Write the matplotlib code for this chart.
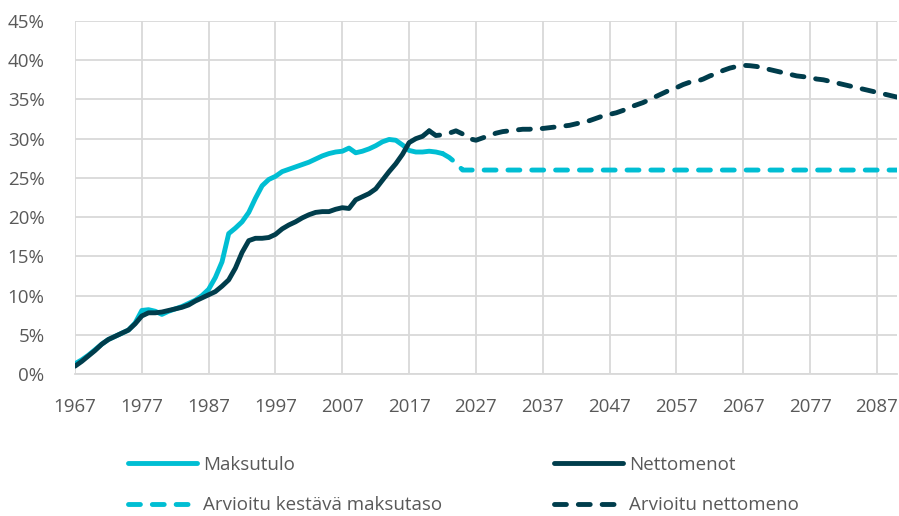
import matplotlib
matplotlib.use("Agg")
import matplotlib.pyplot as plt
from matplotlib.lines import Line2D

# ---------------- data ----------------
maksutulo_years = list(range(1967, 2023))
maksutulo = [1.3, 1.8, 2.4, 3.1, 3.8, 4.4, 4.8, 5.2, 5.6, 6.5,
             8.1, 8.2, 8.0, 7.6, 8.0, 8.3, 8.6, 9.0, 9.4, 10.0,
             10.8, 12.3, 14.3, 17.9, 18.6, 19.4, 20.6, 22.4, 24.0, 24.8,
             25.2, 25.8, 26.1, 26.4, 26.7, 27.0, 27.4, 27.8, 28.1, 28.3,
             28.4, 28.8, 28.2, 28.4, 28.7, 29.1, 29.6, 29.9, 29.8, 29.2,
             28.5, 28.3, 28.3, 28.4, 28.3, 28.1]

nettomenot_years = list(range(1967, 2021))
nettomenot = [1.0, 1.6, 2.3, 3.0, 3.8, 4.4, 4.8, 5.2, 5.6, 6.4,
              7.4, 7.8, 7.8, 7.9, 8.1, 8.3, 8.5, 8.8, 9.3, 9.7,
              10.1, 10.5, 11.2, 12.0, 13.5, 15.5, 17.0, 17.3, 17.3, 17.4,
              17.8, 18.5, 19.0, 19.4, 19.9, 20.3, 20.6, 20.7, 20.7, 21.0,
              21.2, 21.1, 22.2, 22.6, 23.0, 23.6, 24.7, 25.8, 26.8, 28.0,
              29.5, 30.0, 30.3, 31.0]

kestava_years = [2022, 2023, 2024, 2025, 2090]
kestava = [28.1, 27.6, 26.9, 26.0, 26.0]

arvio_years = list(range(2020, 2091))
arvio_netto = [31.0, 30.4, 30.5, 30.7, 31.0, 30.6, 30.0, 29.8, 30.1, 30.4,
               30.7, 30.9, 31.0, 31.1, 31.2, 31.2, 31.3, 31.3, 31.4, 31.5,
               31.6, 31.7, 31.9, 32.1, 32.3, 32.6, 32.9, 33.1, 33.3, 33.6,
               34.0, 34.3, 34.6, 35.0, 35.4, 35.8, 36.2, 36.5, 36.9, 37.2,
               37.3, 37.6, 38.0, 38.3, 38.7, 39.0, 39.2, 39.35, 39.3, 39.2,
               39.0, 38.8, 38.6, 38.4, 38.2, 38.0, 37.9, 37.8, 37.6, 37.5,
               37.3, 37.1, 36.9, 36.7, 36.5, 36.3, 36.1, 35.9, 35.7, 35.5,
               35.3]

x_ticks = [1967, 1977, 1987, 1997, 2007, 2017, 2027, 2037, 2047, 2057, 2067, 2077, 2087]
y_ticks = [0, 5, 10, 15, 20, 25, 30, 35, 40, 45]

labels = ["Maksutulo", "Nettomenot", "Arvioitu kestävä maksutaso", "Arvioitu nettomeno"]

# ---------------- style ----------------
plt.rcParams['font.family'] = ['Open Sans', 'DejaVu Sans']
CYAN = '#00BED3'
DARK = '#003D4C'
GRID = '#D9D9D9'
TXT = '#595959'
LW = 3.5
DASH = (2.45, 2.45)
FS = 13.5

fig = plt.figure(figsize=(8.99, 5.16), dpi=100)
ax = fig.add_axes([75 / 899, 1 - 374 / 516, (897 - 75) / 899, (374 - 21) / 516])

ax.plot(maksutulo_years, maksutulo, color=CYAN, lw=LW, solid_capstyle='round',
        solid_joinstyle='round', zorder=3)
ax.plot(kestava_years, kestava, color=CYAN, lw=LW, linestyle=(0, DASH),
        dash_capstyle='round', zorder=3)
ax.plot(nettomenot_years, nettomenot, color=DARK, lw=LW, solid_capstyle='round',
        solid_joinstyle='round', zorder=4)
ax.plot(arvio_years, arvio_netto, color=DARK, lw=LW, linestyle=(0, DASH),
        dash_capstyle='round', zorder=4)

ax.set_xlim(1967, 2090)
ax.set_ylim(0, 45)
ax.set_xticks(x_ticks)
ax.set_xticklabels([str(t) for t in x_ticks])
ax.set_yticks(y_ticks)
ax.set_yticklabels([f"{t}%" for t in y_ticks])
ax.tick_params(axis='both', length=0, labelsize=FS, labelcolor=TXT)
ax.tick_params(axis='x', pad=17)
ax.tick_params(axis='y', pad=22)
ax.grid(True, color=GRID, lw=1.3, zorder=0)
ax.set_axisbelow(True)
for s in ['top', 'right', 'left']:
    ax.spines[s].set_visible(False)
ax.spines['bottom'].set_color(GRID)
ax.spines['bottom'].set_linewidth(1.3)

# ---------------- legend ----------------
def handle(color, dashed):
    if dashed:
        return Line2D([], [], color=color, lw=LW, linestyle=(0, DASH), dash_capstyle='round')
    return Line2D([], [], color=color, lw=LW, solid_capstyle='round')

common = dict(frameon=False, fontsize=FS, handlelength=3.7, handletextpad=0.3,
              labelspacing=1.2, borderpad=0, borderaxespad=0, labelcolor=TXT,
              loc='upper left')
leg1 = fig.legend([handle(CYAN, False), handle(CYAN, True)], [labels[0], labels[2]],
                  bbox_to_anchor=(128 / 899, 1 - 456 / 516), **common)
leg2 = fig.legend([handle(DARK, False), handle(DARK, True)], [labels[1], labels[3]],
                  bbox_to_anchor=(554 / 899, 1 - 456 / 516), **common)

fig.savefig("out.png", dpi=100)
